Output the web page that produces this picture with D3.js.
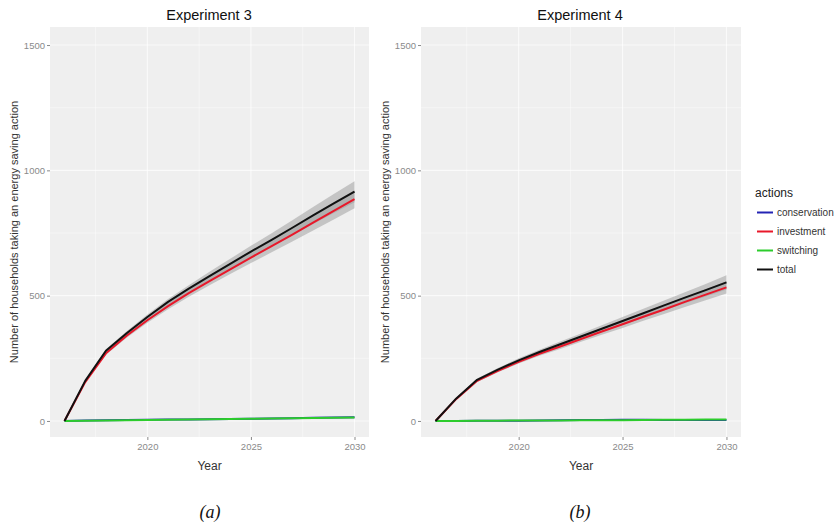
<!DOCTYPE html>
<html>
<head>
<meta charset="utf-8">
<script src="https://cdn.jsdelivr.net/npm/d3@7"></script>
<style>
  html, body { margin: 0; padding: 0; background: #ffffff; }
  svg { display: block; }
</style>
</head>
<body>
<svg id="chart" width="837" height="532"></svg>
<script>
// Simulation years
const years = [2016, 2017, 2018, 2019, 2020, 2021, 2022, 2023, 2024, 2025, 2026, 2027, 2028, 2029, 2030];

// Experiment 3: households taking each action (mean of runs)
const exp3Conservation = [0, 2, 3, 4, 5, 6, 6, 7, 8, 9, 10, 11, 13, 14, 15];
const exp3Investment   = [0, 155, 270, 340, 402, 458, 510, 558, 605, 652, 698, 744, 791, 838, 885];
const exp3Switching    = [0, 1, 2, 3, 4, 5, 6, 7, 8, 9, 10, 11, 12, 13, 14];
const exp3Total        = [0, 160, 280, 350, 415, 475, 528, 578, 627, 676, 723, 771, 820, 868, 915];
// Half-width of the run-to-run band around each series
const exp3TotalBand      = [0, 4, 6, 8, 10, 12, 14, 17, 20, 23, 26, 30, 34, 38, 42];
const exp3InvestmentBand = [0, 4, 6, 8, 10, 12, 14, 16, 19, 22, 25, 28, 31, 34, 36];

// Experiment 4
const exp4Conservation = [0, 0, 1, 1, 1, 2, 3, 4, 4, 5, 5, 4, 4, 4, 4];
const exp4Investment   = [0, 88, 160, 200, 236, 268, 297, 327, 357, 386, 416, 445, 475, 504, 533];
const exp4Switching    = [0, 0, 1, 1, 2, 2, 2, 3, 3, 3, 4, 5, 5, 6, 6];
const exp4Total        = [0, 90, 164, 205, 242, 275, 306, 337, 368, 399, 430, 461, 492, 522, 553];
const exp4TotalBand      = [0, 3, 5, 6, 8, 9, 11, 12, 14, 16, 18, 20, 22, 25, 28];
const exp4InvestmentBand = [0, 3, 5, 6, 7, 8, 10, 11, 13, 15, 16, 18, 20, 22, 24];

// Axis breaks and labels
const xTicks = [2020, 2025, 2030];
const xMinor = [2017.5, 2022.5, 2027.5];
const yTicks = [0, 500, 1000, 1500];
const yMinor = [250, 750, 1250];

const actionNames  = ["conservation", "investment", "switching", "total"];
const actionColors = ["#2424b4", "#e8182a", "#2ccc2c", "#111111"];

const panelTitles = ["Experiment 3", "Experiment 4"];
const panelCaptions = ["(a)", "(b)"];
const xTitle = "Year";
const yTitle = "Number of households taking an energy saving action";
const legendTitle = "actions";

const experiments = [
  { series: [exp3Conservation, exp3Investment, exp3Switching, exp3Total],
    bands: [{ mid: exp3Investment, half: exp3InvestmentBand }, { mid: exp3Total, half: exp3TotalBand }] },
  { series: [exp4Conservation, exp4Investment, exp4Switching, exp4Total],
    bands: [{ mid: exp4Investment, half: exp4InvestmentBand }, { mid: exp4Total, half: exp4TotalBand }] }
];

const svg = d3.select("#chart");
const font = "'Liberation Sans', Arial, sans-serif";

// Panel frames
const panels = [
  { left: 50, right: 369, top: 27, bottom: 437, yTitleX: 14, title: 209, caption: 210 },
  { left: 421, right: 741, top: 27, bottom: 437, yTitleX: 385, title: 580, caption: 580 }
];

panels.forEach((p, i) => {
  const exp = experiments[i];
  const x = d3.scaleLinear().domain([2015.3, 2030.7]).range([p.left, p.right]);
  const y = d3.scaleLinear().domain([-64, 1572]).range([p.bottom, p.top]);

  const g = svg.append("g");

  // Panel background
  g.append("rect")
    .attr("x", x(2015.3)).attr("y", y(1572))
    .attr("width", x(2030.7) - x(2015.3))
    .attr("height", y(-64) - y(1572))
    .attr("fill", "#efefef");

  // Grid
  const grid = g.append("g").attr("stroke", "#ffffff").attr("stroke-opacity", 0.7);
  grid.selectAll(".ymin").data(yMinor).join("line")
    .attr("x1", x(2015.3)).attr("x2", x(2030.7))
    .attr("y1", d => y(d)).attr("y2", d => y(d)).attr("stroke-width", 0.6);
  grid.selectAll(".xmin").data(xMinor).join("line")
    .attr("y1", y(-64)).attr("y2", y(1572))
    .attr("x1", d => x(d)).attr("x2", d => x(d)).attr("stroke-width", 0.6);
  grid.selectAll(".ymaj").data(yTicks).join("line")
    .attr("x1", x(2015.3)).attr("x2", x(2030.7))
    .attr("y1", d => y(d)).attr("y2", d => y(d)).attr("stroke-width", 1.1);
  grid.selectAll(".xmaj").data(xTicks).join("line")
    .attr("y1", y(-64)).attr("y2", y(1572))
    .attr("x1", d => x(d)).attr("x2", d => x(d)).attr("stroke-width", 1.1);

  // Uncertainty bands
  const area = d3.area()
    .x((d, k) => x(years[k]))
    .y0(d => y(d[0]))
    .y1(d => y(d[1]));
  exp.bands.forEach(b => {
    const rows = b.mid.map((m, k) => [m - b.half[k], m + b.half[k]]);
    g.append("path").datum(rows)
      .attr("d", area)
      .attr("fill", "#9a9a9a")
      .attr("fill-opacity", 0.5);
  });

  // Action lines
  const line = d3.line().x((d, k) => x(years[k])).y(d => y(d));
  exp.series.forEach((s, k) => {
    g.append("path").datum(s)
      .attr("d", line)
      .attr("fill", "none")
      .attr("stroke", actionColors[k])
      .attr("stroke-width", 2)
      .attr("stroke-linejoin", "round");
  });

  // Axes
  const yAxis = g.append("g")
    .attr("transform", `translate(${x(2015.3)},0)`)
    .call(d3.axisLeft(y).tickValues(yTicks).tickSize(3).tickPadding(2).tickFormat(d3.format("d")));
  const xAxis = g.append("g")
    .attr("transform", `translate(0,${y(-64)})`)
    .call(d3.axisBottom(x).tickValues(xTicks).tickSize(3).tickPadding(3).tickFormat(d3.format("d")));
  [yAxis, xAxis].forEach(a => {
    a.select(".domain").remove();
    a.selectAll(".tick line").attr("stroke", "#8a8a8a");
    a.selectAll(".tick text").attr("fill", "#8a8a8a")
      .style("font-family", font).style("font-size", "9.5px");
  });

  // Titles
  g.append("text")
    .attr("x", p.title).attr("y", 20)
    .attr("text-anchor", "middle")
    .style("font-family", font).style("font-size", "14.5px").attr("fill", "#111")
    .text(panelTitles[i]);

  g.append("text")
    .attr("x", (x(2015.3) + x(2030.7)) / 2).attr("y", 470)
    .attr("text-anchor", "middle")
    .style("font-family", font).style("font-size", "12px").attr("fill", "#333")
    .text(xTitle);

  g.append("text")
    .attr("transform", `translate(${p.yTitleX},${(y(-64) + y(1572)) / 2}) rotate(-90)`)
    .attr("text-anchor", "middle")
    .attr("dy", "0.35em")
    .style("font-family", font).style("font-size", "11px").attr("fill", "#333")
    .text(yTitle);

  g.append("text")
    .attr("x", p.caption).attr("y", 518)
    .attr("text-anchor", "middle")
    .style("font-family", "'Liberation Serif', serif").style("font-style", "italic")
    .style("font-size", "18px").attr("fill", "#111")
    .text(panelCaptions[i]);
});

// Legend
const legend = svg.append("g").attr("transform", "translate(755,0)");
legend.append("text")
  .attr("x", 0).attr("y", 197)
  .style("font-family", font).style("font-size", "12px").attr("fill", "#222")
  .text(legendTitle);
const item = legend.selectAll(".item").data(actionNames).join("g")
  .attr("transform", (d, k) => `translate(0,${212.5 + k * 19})`);
item.append("line")
  .attr("x1", 2).attr("x2", 18).attr("y1", 0).attr("y2", 0)
  .attr("stroke", (d, k) => actionColors[k]).attr("stroke-width", 2);
item.append("text")
  .attr("x", 22).attr("y", 0).attr("dy", "0.35em")
  .style("font-family", font).style("font-size", "10px").attr("fill", "#333")
  .text(d => d);
</script>
</body>
</html>
